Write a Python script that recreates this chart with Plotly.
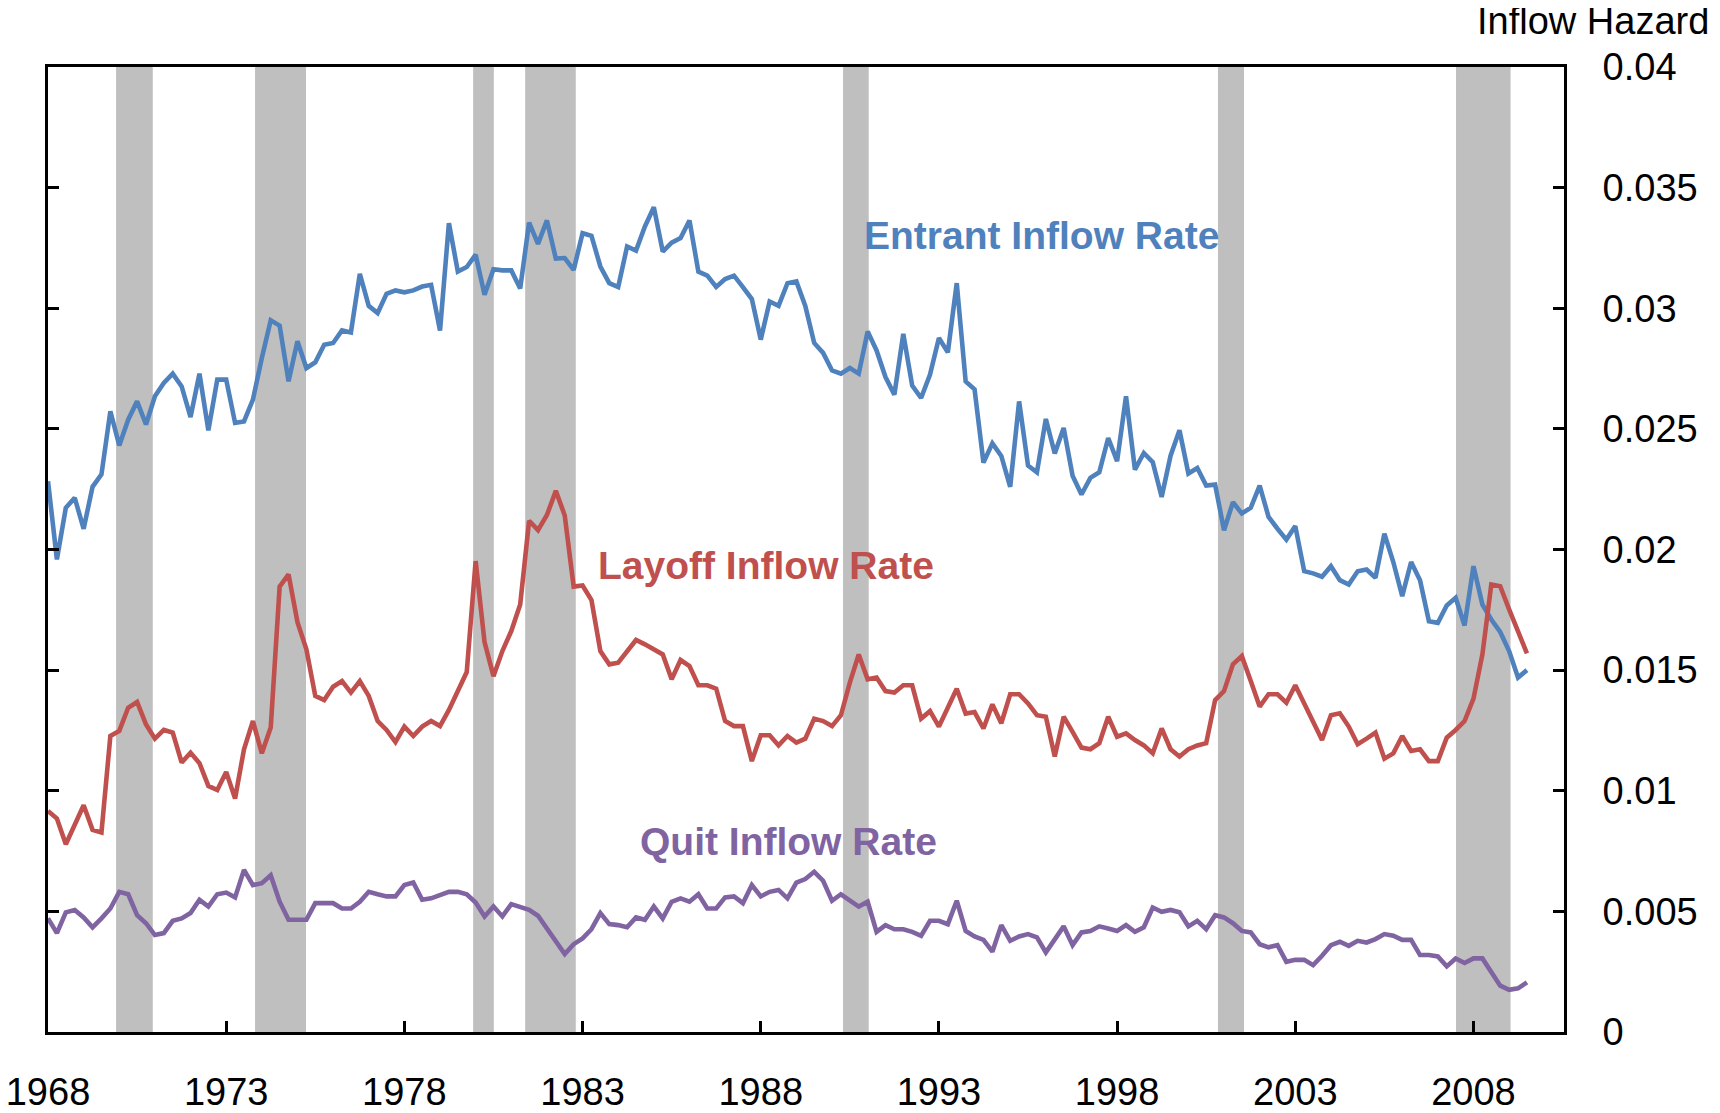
import plotly.graph_objects as go

start_year = 1968

entrant = [
    0.02283, 0.01959, 0.02173, 0.02214, 0.02086, 0.02260, 0.02311, 0.02573, 0.02431, 0.02538,
    0.02614, 0.02518, 0.02635, 0.02690, 0.02729, 0.02676, 0.02549, 0.02729, 0.02494, 0.02704,
    0.02704, 0.02525, 0.02531, 0.02621, 0.02794, 0.02950, 0.02928, 0.02697, 0.02863, 0.02752,
    0.02776, 0.02849, 0.02856, 0.02908, 0.02900, 0.03143, 0.03010, 0.02980, 0.03060, 0.03074,
    0.03066, 0.03074, 0.03090, 0.03097, 0.02908, 0.03353, 0.03152, 0.03171, 0.03222, 0.03056,
    0.03162, 0.03157, 0.03157, 0.03082, 0.03355, 0.03267, 0.03364, 0.03206, 0.03208, 0.03159,
    0.03311, 0.03300, 0.03173, 0.03104, 0.03088, 0.03256, 0.03239, 0.03339, 0.03419, 0.03235,
    0.03272, 0.03291, 0.03364, 0.03152, 0.03135, 0.03088, 0.03121, 0.03135, 0.03088, 0.03038,
    0.02870, 0.03028, 0.03010, 0.03104, 0.03111, 0.03010, 0.02856, 0.02815, 0.02742, 0.02729,
    0.02752, 0.02729, 0.02904, 0.02825, 0.02715, 0.02642, 0.02894, 0.02679, 0.02628, 0.02725,
    0.02877, 0.02817, 0.03104, 0.02697, 0.02664, 0.02360, 0.02440, 0.02388, 0.02260, 0.02614,
    0.02348, 0.02320, 0.02541, 0.02398, 0.02504, 0.02306, 0.02228, 0.02297, 0.02320, 0.02462,
    0.02366, 0.02635, 0.02331, 0.02400, 0.02362, 0.02218, 0.02389, 0.02494, 0.02315, 0.02338,
    0.02265, 0.02269, 0.02080, 0.02196, 0.02149, 0.02173, 0.02265, 0.02135, 0.02086, 0.02041,
    0.02097, 0.01910, 0.01901, 0.01887, 0.01931, 0.01873, 0.01855, 0.01910, 0.01917, 0.01883,
    0.02066, 0.01948, 0.01807, 0.01948, 0.01873, 0.01703, 0.01696, 0.01768, 0.01800, 0.01685,
    0.01931, 0.01772, 0.01710, 0.01658, 0.01579, 0.01469, 0.01500,
]

layoff = [
    0.00916, 0.00885, 0.00778, 0.00865, 0.00940, 0.00838, 0.00827, 0.01227, 0.01248, 0.01344,
    0.01368, 0.01275, 0.01216, 0.01252, 0.01241, 0.01117, 0.01158, 0.01114, 0.01020, 0.01003,
    0.01078, 0.00968, 0.01172, 0.01289, 0.01155, 0.01262, 0.01846, 0.01897, 0.01699, 0.01586,
    0.01393, 0.01376, 0.01431, 0.01455, 0.01407, 0.01455, 0.01393, 0.01289, 0.01252, 0.01202,
    0.01266, 0.01227, 0.01266, 0.01289, 0.01268, 0.01335, 0.01413, 0.01492, 0.01952, 0.01616,
    0.01475, 0.01579, 0.01662, 0.01772, 0.02119, 0.02080, 0.02143, 0.02243, 0.02141, 0.01846,
    0.01851, 0.01790, 0.01579, 0.01524, 0.01531, 0.01579, 0.01625, 0.01607, 0.01586, 0.01565,
    0.01462, 0.01542, 0.01517, 0.01437, 0.01437, 0.01423, 0.01289, 0.01268, 0.01268, 0.01123,
    0.01230, 0.01230, 0.01188, 0.01227, 0.01200, 0.01216, 0.01299, 0.01289, 0.01268, 0.01313,
    0.01448, 0.01565, 0.01462, 0.01469, 0.01413, 0.01407, 0.01437, 0.01437, 0.01299, 0.01330,
    0.01266, 0.01344, 0.01423, 0.01320, 0.01326, 0.01258, 0.01358, 0.01280, 0.01400, 0.01400,
    0.01362, 0.01313, 0.01307, 0.01142, 0.01307, 0.01244, 0.01179, 0.01172, 0.01197, 0.01307,
    0.01224, 0.01238, 0.01210, 0.01188, 0.01155, 0.01258, 0.01172, 0.01142, 0.01172, 0.01188,
    0.01197, 0.01376, 0.01413, 0.01524, 0.01558, 0.01455, 0.01349, 0.01400, 0.01400, 0.01365,
    0.01437, 0.01362, 0.01289, 0.01210, 0.01313, 0.01321, 0.01266, 0.01193, 0.01216, 0.01241,
    0.01133, 0.01155, 0.01227, 0.01165, 0.01172, 0.01123, 0.01123, 0.01220, 0.01252, 0.01289,
    0.01382, 0.01565, 0.01855, 0.01848, 0.01752, 0.01662, 0.01569,
]

quit_rate = [
    0.00471, 0.00410, 0.00496, 0.00506, 0.00475, 0.00434, 0.00471, 0.00512, 0.00581, 0.00571,
    0.00484, 0.00451, 0.00402, 0.00410, 0.00461, 0.00471, 0.00493, 0.00548, 0.00520, 0.00571,
    0.00578, 0.00558, 0.00672, 0.00609, 0.00617, 0.00650, 0.00540, 0.00465, 0.00465, 0.00465,
    0.00534, 0.00534, 0.00534, 0.00512, 0.00512, 0.00540, 0.00581, 0.00571, 0.00562, 0.00562,
    0.00609, 0.00620, 0.00548, 0.00554, 0.00567, 0.00581, 0.00581, 0.00571, 0.00537, 0.00479,
    0.00520, 0.00479, 0.00530, 0.00520, 0.00506, 0.00482, 0.00429, 0.00378, 0.00323, 0.00364,
    0.00388, 0.00426, 0.00493, 0.00447, 0.00443, 0.00434, 0.00475, 0.00465, 0.00520, 0.00471,
    0.00540, 0.00554, 0.00540, 0.00571, 0.00512, 0.00512, 0.00558, 0.00562, 0.00534, 0.00609,
    0.00562, 0.00581, 0.00589, 0.00554, 0.00619, 0.00634, 0.00664, 0.00627, 0.00544, 0.00571,
    0.00544, 0.00520, 0.00540, 0.00415, 0.00443, 0.00426, 0.00426, 0.00415, 0.00399, 0.00461,
    0.00461, 0.00447, 0.00544, 0.00419, 0.00396, 0.00382, 0.00333, 0.00443, 0.00378, 0.00396,
    0.00406, 0.00392, 0.00330, 0.00382, 0.00438, 0.00360, 0.00413, 0.00419, 0.00438, 0.00429,
    0.00419, 0.00443, 0.00415, 0.00434, 0.00516, 0.00498, 0.00506, 0.00496, 0.00438, 0.00461,
    0.00426, 0.00484, 0.00475, 0.00451, 0.00419, 0.00413, 0.00364, 0.00351, 0.00360, 0.00291,
    0.00299, 0.00299, 0.00277, 0.00316, 0.00360, 0.00374, 0.00357, 0.00378, 0.00371, 0.00385,
    0.00406, 0.00399, 0.00382, 0.00382, 0.00319, 0.00319, 0.00313, 0.00272, 0.00305, 0.00286,
    0.00305, 0.00305, 0.00247, 0.00192, 0.00175, 0.00181, 0.00206,
]

# Recession periods (decimal years)
rec_start = [1969.91, 1973.81, 1979.93, 1981.39, 1990.31, 2000.83, 2007.51]
rec_end = [1970.94, 1975.24, 1980.51, 1982.81, 1991.03, 2001.56, 2009.04]

x_ticks = [1968, 1973, 1978, 1983, 1988, 1993, 1998, 2003, 2008]
y_ticks = [0, 0.005, 0.01, 0.015, 0.02, 0.025, 0.03, 0.035, 0.04]
y_tick_text = ["0", "0.005", "0.01", "0.015", "0.02", "0.025", "0.03", "0.035", "0.04"]

quarters = [start_year + q / 4 for q in range(len(entrant))]

BLUE = "#4F81BD"
RED = "#C0504D"
PURPLE = "#8064A2"
GRAY = "#BFBFBF"
FONT = "Liberation Sans, Arial, sans-serif"

fig = go.Figure()

for name, vals, col in [("Entrant Inflow Rate", entrant, BLUE),
                        ("Layoff Inflow Rate", layoff, RED),
                        ("Quit Inflow Rate", quit_rate, PURPLE)]:
    fig.add_trace(go.Scatter(x=quarters, y=vals, mode="lines", name=name,
                             line=dict(color=col, width=4.6), showlegend=False))

for s, e in zip(rec_start, rec_end):
    fig.add_shape(type="rect", xref="x", yref="paper", x0=s, x1=e, y0=0, y1=1,
                  fillcolor=GRAY, line=dict(width=0), layer="below")

annots = [
    ("Entrant Inflow Rate", 1995.89, 0.0330, BLUE),
    ("Layoff Inflow Rate", 1988.15, 0.01934, RED),
    ("Quit Inflow Rate", 1988.79, 0.00791, PURPLE),
]
for txt, ax_, ay_, col in annots:
    fig.add_annotation(x=ax_, y=ay_, xref="x", yref="y", text="<b>%s</b>" % txt,
                       showarrow=False, xanchor="center", yanchor="middle",
                       font=dict(family=FONT, size=39, color=col))

fig.add_annotation(x=1.0965, y=1.0481, xref="paper", yref="paper", text="Inflow Hazard",
                   showarrow=False, xanchor="right", yanchor="middle", borderpad=0,
                   font=dict(family=FONT, size=38, color="black"))

fig.update_layout(
    width=1712, height=1105,
    margin=dict(l=40, r=156, t=59, b=81, autoexpand=False),
    paper_bgcolor="white", plot_bgcolor="white",
    font=dict(family=FONT, size=38, color="black"),
    xaxis=dict(range=[1968, 2010.54], tickvals=x_ticks, ticktext=[str(v) for v in x_ticks],
               ticks="inside", ticklen=11, tickwidth=3, tickcolor="black",
               showline=True, linecolor="black", linewidth=3, mirror=True,
               showgrid=False, zeroline=False, ticklabelstandoff=24, automargin=False,
               ticklabeloverflow="allow",
               tickfont=dict(family=FONT, size=38, color="black")),
    yaxis=dict(range=[0, 0.04], side="right", tickvals=y_ticks, ticktext=y_tick_text,
               ticks="inside", ticklen=11, tickwidth=3, tickcolor="black",
               showline=True, linecolor="black", linewidth=3, mirror="ticks",
               showgrid=False, zeroline=False, ticklabelstandoff=28, automargin=False,
               ticklabeloverflow="allow",
               tickfont=dict(family=FONT, size=38, color="black")),
)

fig.write_html("out.html")
